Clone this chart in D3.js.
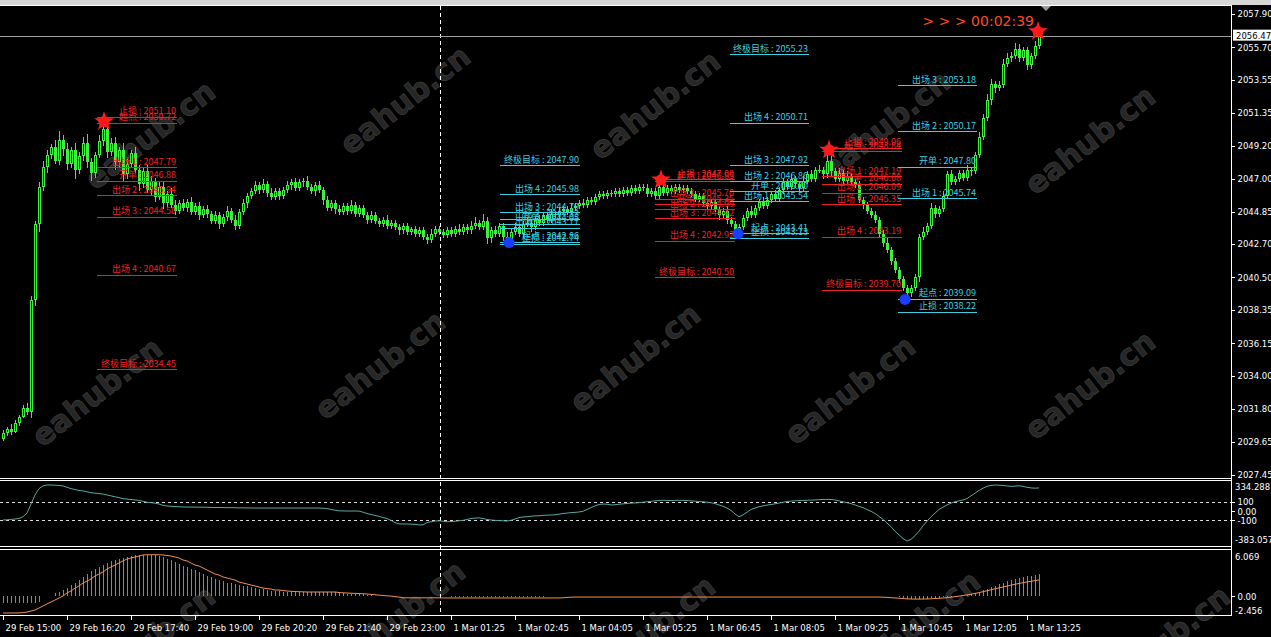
<!DOCTYPE html>
<html>
<head>
<meta charset="utf-8">
<script src="https://cdn.jsdelivr.net/npm/d3@7"></script>
<style>
html, body { margin: 0; padding: 0; background: #000; }
svg { display: block; }
</style>
</head>
<body>
<script>
// ---- price data (M5 bars), open of a bar = previous close ----
var firstOpen = 2029.8;
var closes = [
2030.2,2030.5,2030.3,2030.9,2031.3,2031.9,2031.6,2039.0,2044.0,2046.5,
2047.8,2048.6,2049.1,2048.2,2049.6,2049.0,2048.0,2048.9,2047.6,2048.5,
2049.4,2048.1,2047.4,2048.6,2049.5,2050.3,2048.8,2049.4,2048.1,2048.9,
2047.3,2048.0,2048.7,2047.6,2046.7,2047.5,2046.3,2046.9,2045.8,2046.5,
2045.4,2046.0,2045.3,2044.9,2045.4,2045.1,2045.5,2044.8,2045.2,2044.6,
2045.0,2044.7,2044.2,2044.6,2044.0,2044.5,2044.9,2044.3,2043.9,2044.8,
2045.4,2045.9,2046.2,2046.6,2046.3,2046.7,2046.1,2045.8,2046.2,2045.9,
2046.3,2046.6,2046.8,2046.4,2046.8,2046.9,2046.5,2046.2,2046.6,2046.3,
2045.6,2045.1,2045.4,2045.0,2044.8,2045.2,2044.9,2045.3,2044.7,2045.1,
2044.6,2044.3,2044.6,2044.2,2044.0,2044.3,2043.9,2044.1,2043.8,2043.6,
2043.9,2043.5,2043.7,2043.4,2043.6,2043.2,2043.0,2043.4,2043.7,2043.5,
2043.3,2043.6,2043.4,2043.7,2043.5,2043.8,2043.6,2043.9,2044.1,2043.8,
2044.2,2043.1,2043.6,2043.4,2043.9,2043.2,2042.9,2043.5,2043.8,2043.4,
2044.0,2044.1,2043.8,2044.3,2044.1,2044.6,2044.3,2044.7,2044.6,2044.9,
2045.0,2044.8,2045.1,2045.2,2045.4,2045.3,2045.6,2045.5,2045.8,2046.0,
2045.9,2046.1,2046.0,2046.2,2046.0,2046.3,2046.1,2046.4,2046.2,2046.5,
2046.4,2046.0,2046.2,2045.9,2046.5,2046.1,2046.4,2046.2,2046.5,2046.3,
2046.4,2046.2,2046.0,2045.7,2045.9,2045.4,2045.2,2045.5,2045.0,2044.6,
2044.9,2044.3,2044.0,2043.6,2043.8,2044.4,2044.9,2044.6,2045.1,2045.5,
2045.2,2045.6,2046.0,2045.7,2046.3,2046.8,2046.5,2047.0,2046.7,2046.4,
2046.9,2047.3,2047.0,2047.6,2047.6,2047.3,2048.2,2047.5,2047.0,2047.4,
2046.9,2047.2,2046.8,2046.6,2045.6,2045.3,2044.9,2044.6,2044.3,2043.4,
2042.8,2042.3,2041.6,2041.0,2040.4,2039.8,2039.5,2039.8,2040.5,2043.2,
2043.5,2043.9,2045.1,2044.7,2045.0,2045.9,2047.3,2046.8,2047.0,2047.4,
2047.1,2047.6,2047.5,2048.6,2049.8,2051.0,2052.2,2053.3,2053.0,2053.2,
2054.6,2055.0,2055.1,2055.6,2055.0,2055.5,2054.5,2055.1,2055.8,2056.47];
// wick length above / below the body
var hiWick = [
.2,.1,.3,.2,.1,.2,.3,.3,.2,.3, .4,.3,.2,.5,.6,.3,.4,.2,.5,.3, .4,.6,.3,.2,.4,.42,.5,.3,.4,.2,
.5,.3,.2,.4,.3,.2,.4,.3,.2,.4, .3,.2,.4,.3,.2,.3,.2,.3,.2,.3, .2,.3,.2,.3,.2,.2,.3,.2,.3,.2,
.3,.2,.2,.3,.2,.3,.2,.3,.2,.2, .2,.3,.2,.3,.2,.2,.3,.2,.2,.3, .2,.3,.2,.2,.3,.2,.2,.3,.2,.2,
.2,.2,.3,.2,.2,.2,.3,.2,.2,.2, .2,.2,.1,.2,.2,.2,.2,.3,.2,.2, .2,.2,.2,.2,.3,.2,.2,.3,.4,.2,
.5,.3,.2,.3,.2,.2,.3,.2,.3,.2, .2,.3,.2,.2,.3,.2,.2,.3,.2,.2, .2,.2,.3,.2,.2,.3,.2,.2,.2,.2,
.2,.2,.2,.2,.2,.2,.2,.2,.2,.2, .2,.3,.2,.2,.35,.2,.2,.2,.2,.2, .2,.2,.2,.2,.2,.2,.2,.2,.2,.2,
.2,.3,.2,.2,.2,.2,.2,.3,.2,.2, .3,.2,.2,.3,.2,.3,.2,.3,.2,.2, .3,.2,.3,.2,.3,.2,.64,.3,.2,.3,
.2,.3,.2,.2,.3,.2,.2,.2,.3,.2, .2,.3,.2,.2,.2,.2,.2,.2,.2,.2, .3,.2,.3,.2,.2,.3,.2,.3,.2,.2,
.2,.3,.2,.2,.3,.3,.4,.3,.2,.3, .3,.3,.3,.4,.3,.2,.2,.2,.3,.3];
var loWick = [
.1,.2,.2,.1,.2,.1,.2,.4,.4,.5, .3,.4,.3,.2,.3,.5,.4,.3,.6,.3, .3,.4,.5,.3,.2,.3,.4,.3,.5,.3,
.4,.3,.3,.2,.5,.3,.2,.4,.3,.2, .4,.3,.2,.3,.2,.2,.3,.2,.2,.3, .2,.3,.2,.2,.3,.2,.3,.2,.3,.2,
.2,.3,.2,.2,.3,.2,.3,.2,.2,.3, .2,.2,.3,.2,.2,.3,.2,.2,.3,.2, .3,.2,.2,.3,.2,.2,.3,.2,.2,.2,
.2,.3,.2,.2,.2,.2,.2,.2,.2,.3, .2,.2,.2,.2,.2,.2,.3,.2,.2,.2, .2,.2,.2,.2,.2,.2,.2,.2,.2,.2,
.2,.4,.3,.2,.2,.3,.04,.2,.2,.2, .2,.2,.3,.2,.2,.2,.2,.2,.2,.2, .2,.2,.2,.2,.2,.2,.2,.2,.2,.2,
.2,.2,.2,.2,.2,.2,.2,.2,.2,.2, .2,.2,.2,.2,.3,.2,.2,.2,.2,.2, .2,.2,.2,.2,.2,.2,.2,.2,.2,.3,
.2,.3,.2,.2,.19,.2,.2,.2,.2,.2, .2,.2,.2,.2,.2,.3,.2,.2,.3,.2, .2,.2,.2,.2,.2,.3,.2,.3,.2,.2,
.2,.2,.2,.2,.2,.3,.2,.2,.2,.3, .3,.2,.3,.2,.3,.2,.41,.3,.2,.3, .2,.2,.2,.3,.2,.2,.2,.2,.2,.2,
.2,.2,.3,.2,.2,.2,.2,.3,.3,.2, .2,.2,.3,.2,.3,.2,.3,.2,.2,.2];

// ---- sub window 1 (CCI style line) ----
var cci = [
-96,-94,-90,-85,-80,-60,-20,80,180,250, 280,290,290,288,285,280,265,250,240,230,
225,215,205,200,195,190,180,170,160,150, 140,135,130,125,120,110,100,95,90,80,
65,58,55,52,50,48,47,47,46,45, 45,44,43,42,42,41,40,40,39,38,
38,37,37,36,36,36,36,36,36,36, 36,36,36,36,36,36,36,36,36,36,
34,30,20,12,5,4,3,3,3,2, -10,-25,-35,-45,-55,-70,-80,-100,-125,-140,
-140,-140,-142,-145,-150,-150,-125,-115,-108,-105, -110,-115,-113,-110,-105,-100,-90,-80,-75,-72,
-80,-90,-96,-100,-103,-105,-107,-100,-85,-70, -63,-60,-55,-50,-50,-45,-42,-41,-38,-32,
-25,-20,-15,-12,-8,0,20,40,60,75, 80,78,70,72,78,82,86,90,92,95,
100,105,110,115,120,122,120,118,120,122, 120,118,115,112,108,105,100,95,85,70,
55,35,10,-30,-60,-40,-10,20,35,50, 60,68,75,82,90,100,108,112,115,118,
120,122,124,125,128,130,132,130,125,115, 105,95,85,70,55,40,20,0,-25,-55,
-90,-130,-170,-220,-260,-300,-328,-310,-270,-220, -160,-110,-60,-20,20,45,70,90,105,115,
125,140,170,200,230,255,275,285,290,288, 285,280,275,278,282,275,265,258,255,258];
var cciMax = 334.288, cciMin = -383.057;
var cciLevels = [100, 0, -100];

// ---- sub window 2 (histogram + signal) ----
var hist = [
-.85,-.9,-.88,-.9,-.92,-.9,-.88,-.9,-.85,-.8, 0,0,0,.43,.6,.82,1.1,1.48,1.8,2.13,
2.5,2.92,3.25,3.58,3.85,4.1,4.35,4.63,4.78,4.89, 5.02,5.15,5.25,5.35,5.41,5.45,5.45,5.41,5.35,5.28,
5.1,4.89,4.7,4.5,4.25,4.0,3.8,3.58,3.4,3.18, 2.95,2.7,2.5,2.3,2.13,1.95,1.8,1.7,1.6,1.5,
1.4,1.3,1.22,1.1,1.0,.9,.8,.75,.7,.65, .6,.56,.56,.56,.56,.56,.56,.56,.56,.56,
.56,.55,.55,.5,.45,.4,.35,.32,.3,.28, .25,.2,.15,.1,.05,.02,0,0,0,0,
0,0,0,0,0,0,0,0,0,0, 0,0,-.08,-.08,-.08,-.08,-.08,-.08,-.08,-.08,
-.08,-.08,-.08,-.08,-.08,-.08,-.08,-.08,-.08,-.08, -.08,-.08,-.08,-.08,-.08,-.08,0,0,0,0,
0,0,0,0,0,0,0,0,0,0, 0,0,0,0,0,0,0,0,0,0,
0,0,0,0,0,0,0,0,0,0, 0,0,0,0,0,0,0,0,0,0,
0,0,0,0,0,0,0,0,0,0, 0,0,0,0,0,0,0,0,0,0,
0,0,0,0,0,0,0,0,0,0, 0,0,0,0,0,0,0,0,0,0,
0,0,0,0,-.1,-.2,-.3,-.35,-.35,-.35, -.3,-.3,-.25,-.2,-.2,-.15,-.1,-.05,0,.05,
.1,.2,.3,.45,.6,.8,1.0,1.2,1.4,1.6, 1.8,1.95,2.1,2.25,2.4,2.5,2.6,2.7,2.8,2.9];
var signal = [
-2.19,-2.19,-2.19,-2.19,-2.19,-2.15,-2.06,-1.93,-1.8,-1.54, -1.28,-1.0,-.75,-.49,-.23,.04,.43,.69,1.08,1.35,
1.74,2.0,2.26,2.66,2.92,3.18,3.58,3.84,4.1,4.36, 4.63,4.89,5.02,5.15,5.28,5.41,5.45,5.45,5.45,5.45,
5.41,5.35,5.28,5.15,5.02,4.76,4.63,4.36,4.1,3.97, 3.71,3.45,3.18,2.92,2.79,2.53,2.4,2.26,2.13,1.87,
1.74,1.61,1.48,1.35,1.22,1.08,1.0,.95,.82,.82, .75,.69,.65,.62,.6,.58,.56,.56,.56,.56,
.56,.56,.56,.56,.5,.45,.43,.4,.38,.36, .33,.3,.25,.2,.15,.1,.06,.03,-.05,-.1,
-.2,-.2,-.2,-.2,-.2,-.2,-.2,-.2,-.2,-.2, -.22,-.22,-.22,-.22,-.22,-.22,-.22,-.22,-.22,-.22,
-.22,-.22,-.22,-.22,-.22,-.22,-.22,-.22,-.22,-.22, -.22,-.22,-.22,-.22,-.22,-.22,-.22,-.22,-.22,-.22,
-.2,-.15,-.12,-.1,-.1,-.1,-.1,-.1,-.1,-.1, -.1,-.1,-.1,-.1,-.1,-.1,-.1,-.1,-.1,-.1,
-.1,-.1,-.1,-.1,-.1,-.1,-.1,-.1,-.1,-.1, -.1,-.1,-.1,-.1,-.1,-.1,-.1,-.1,-.1,-.1,
-.1,-.1,-.1,-.1,-.1,-.1,-.1,-.1,-.1,-.1, -.1,-.1,-.1,-.1,-.1,-.1,-.1,-.1,-.1,-.1,
-.1,-.1,-.1,-.1,-.1,-.1,-.1,-.1,-.1,-.1, -.1,-.1,-.1,-.1,-.1,-.1,-.1,-.1,-.1,-.1,
-.12,-.15,-.18,-.22,-.26,-.3,-.34,-.36,-.37,-.37, -.36,-.35,-.33,-.3,-.27,-.23,-.18,-.12,-.05,.02,
.1,.18,.27,.37,.48,.6,.72,.85,.98,1.1, 1.22,1.34,1.46,1.57,1.68,1.78,1.88,1.97,2.06,2.14];
var macdMax = 6.069, macdMin = -2.456;

// ---- axes ----
var priceTicks = [2057.90,2055.70,2053.55,2051.35,2049.20,2047.00,2044.85,2042.70,2040.50,2038.35,2036.15,2034.00,2031.80,2029.65,2027.45];
var lastPrice = 2056.47;
var timeTicks = [0,16,32,48,64,80,96,112,128,144,160,176,192,208,224,240,256];
var timeLabels = ['29 Feb 15:00','29 Feb 16:20','29 Feb 17:40','29 Feb 19:00','29 Feb 20:20','29 Feb 21:40','29 Feb 23:00',
  '1 Mar 01:25','1 Mar 02:45','1 Mar 04:05','1 Mar 05:25','1 Mar 06:45','1 Mar 08:05','1 Mar 09:25','1 Mar 10:45','1 Mar 12:05','1 Mar 13:25'];
var separatorBar = 109.25;
var countdown = '> > >  00:02:39';

// ---- EA level objects ----
var redA = [['止损',2051.10],['起点',2050.72],['出场 1',2047.79],['开单',2046.88],['出场 2',2045.94],['出场 3',2044.50],['出场 4',2040.67],['终极目标',2034.45]];
var cyanA = [['终极目标',2047.90],['出场 4',2045.98],['出场 3',2044.79],['出场 2',2044.33],['开单',2044.05],['出场 1',2043.77],['起点',2042.86],['止损',2042.74]];
var redB = [['止损',2047.00],['起点',2046.85],['出场 1',2045.70],['开单',2045.35],['出场 2',2044.99],['出场 3',2044.42],['出场 4',2042.92],['终极目标',2040.50]];
var cyanC = [['终极目标',2055.23],['出场 4',2050.71],['出场 3',2047.92],['出场 2',2046.86],['开单',2046.20],['出场 1',2045.54],['起点',2043.41],['止损',2043.13]];
var redD = [['止损',2049.06],['起点',2048.84],['出场 1',2047.19],['开单',2046.68],['出场 2',2046.09],['出场 3',2045.35],['出场 4',2043.19],['终极目标',2039.70]];
var cyanE = [['出场 3',2053.18],['出场 2',2050.17],['开单',2047.80],['出场 1',2045.74],['起点',2039.09],['止损',2038.22]];
var levelSpans = [[23.5,43.5],[124.25,144.25],[163,183],[181.75,201.5],[204.75,224.75],[223.75,243.5]];
var highMarks = [[25.25,2050.80],[164.5,2046.95],[206.5,2048.92],[258.75,2056.75]];
var lowMarks = [[126.5,2042.80],[183.75,2043.40],[225.5,2039.05]];

var W = 1271, H = 637, chartRight = 1231;
var green = '#3ef03e', red = '#ee2222', cyan = '#3ccfe0';

var svg = d3.select('body').append('svg')
  .attr('width', W)
  .attr('height', H)
  .style('font-family', '"DejaVu Sans", sans-serif');

svg.append('rect').attr('width', W).attr('height', H).attr('fill', '#000');
// top window strip
svg.append('rect').attr('x', 0).attr('y', 0).attr('width', W).attr('height', 5).attr('fill', '#d6d6d6');

var x = d3.scaleLinear().domain([0, 259]).range([3, 1039]);
var y = d3.scaleLinear().domain([2027.45, 2057.90]).range([475, 14]);
var yC = d3.scaleLinear().domain([cciMin, cciMax]).range([546, 481]);
var yM = d3.scaleLinear().domain([macdMin, macdMax]).range([615, 550]);

var defs = svg.append('defs');
defs.append('clipPath').attr('id', 'cMain').append('rect').attr('x', 0).attr('y', 6).attr('width', chartRight).attr('height', 472);
defs.append('clipPath').attr('id', 'cSub1').append('rect').attr('x', 0).attr('y', 481).attr('width', chartRight).attr('height', 65);
defs.append('clipPath').attr('id', 'cSub2').append('rect').attr('x', 0).attr('y', 550).attr('width', chartRight).attr('height', 65);
defs.append('clipPath').attr('id', 'cAll').append('rect').attr('x', 0).attr('y', 6).attr('width', chartRight).attr('height', 631);

// watermarks
var wm = [[150,135],[405,100],[655,105],[885,125],[1090,140],
          [97,392],[380,365],[635,358],[850,390],[1090,385],
          [150,640],[400,615],[650,630],[915,625],[1165,640]];
svg.append('g').attr('clip-path', 'url(#cAll)').selectAll('text').data(wm).enter().append('text')
  .attr('transform', function(d){ return 'translate(' + d[0] + ',' + d[1] + ') rotate(-38)'; })
  .attr('text-anchor', 'middle')
  .attr('dy', '0.35em')
  .attr('font-size', 30)
  .attr('font-weight', 'bold')
  .attr('fill', '#262626')
  .attr('stroke', '#3a3a3a')
  .attr('stroke-width', 0.8)
  .text('eahub.cn');

// frame lines
var frame = svg.append('g').attr('stroke', '#fff').attr('shape-rendering', 'crispEdges');
[5.5, 478.5, 480.5, 546.5, 549.5, 615.5].forEach(function(v){
  frame.append('line').attr('x1', 0).attr('x2', chartRight + 0.5).attr('y1', v).attr('y2', v);
});
frame.append('line').attr('x1', chartRight + 0.5).attr('x2', chartRight + 0.5).attr('y1', 5).attr('y2', 616);

// chart-shift triangle
svg.append('path').attr('d', 'M1041,6 L1051,6 L1046,11 Z').attr('fill', '#9a9a9a');

// day separator
svg.append('line')
  .attr('x1', Math.round(x(separatorBar)) + 0.5).attr('x2', Math.round(x(separatorBar)) + 0.5)
  .attr('y1', 6).attr('y2', 615)
  .attr('stroke', '#fff').attr('stroke-dasharray', '4,3');

// current price line
svg.append('line').attr('x1', 0).attr('x2', chartRight)
  .attr('y1', Math.round(y(lastPrice)) + 0.5).attr('y2', Math.round(y(lastPrice)) + 0.5)
  .attr('stroke', '#a0a0a0').attr('shape-rendering', 'crispEdges');

// ---- candles ----
var bars = closes.map(function(c, i){
  var o = i ? closes[i - 1] : firstOpen;
  return {i: i, o: o, c: c, h: Math.max(o, c) + hiWick[i], l: Math.min(o, c) - loWick[i]};
});
var main = svg.append('g').attr('clip-path', 'url(#cMain)').attr('shape-rendering', 'crispEdges');
main.selectAll('line.wick').data(bars).enter().append('line')
  .attr('class', 'wick')
  .attr('x1', function(d){ return Math.round(x(d.i)) + 0.5; })
  .attr('x2', function(d){ return Math.round(x(d.i)) + 0.5; })
  .attr('y1', function(d){ return y(d.h); })
  .attr('y2', function(d){ return y(d.l); })
  .attr('stroke', green);
main.selectAll('rect.body').data(bars).enter().append('rect')
  .attr('class', 'body')
  .attr('x', function(d){ return Math.round(x(d.i)) - 1; })
  .attr('width', 3)
  .attr('y', function(d){ return y(Math.max(d.o, d.c)); })
  .attr('height', function(d){ return Math.max(1, Math.abs(y(d.o) - y(d.c))); })
  .attr('fill', green);
// bull bodies are hollow
main.selectAll('rect.hollow').data(bars.filter(function(d){ return d.c > d.o && y(d.o) - y(d.c) > 3; })).enter().append('rect')
  .attr('class', 'hollow')
  .attr('x', function(d){ return Math.round(x(d.i)); })
  .attr('width', 1)
  .attr('y', function(d){ return y(d.c) + 1; })
  .attr('height', function(d){ return y(d.o) - y(d.c) - 2; })
  .attr('fill', '#000');

// ---- level objects ----
var groups = [[redA, red], [cyanA, cyan], [redB, red], [cyanC, cyan], [redD, red], [cyanE, cyan]];
var lv = svg.append('g').attr('clip-path', 'url(#cMain)');
groups.forEach(function(g, k){
  var x0 = x(levelSpans[k][0]), x1 = x(levelSpans[k][1]);
  var gg = lv.append('g');
  gg.selectAll('line').data(g[0]).enter().append('line')
    .attr('x1', x0).attr('x2', x1)
    .attr('y1', function(d){ return Math.round(y(d[1])) + 0.5; })
    .attr('y2', function(d){ return Math.round(y(d[1])) + 0.5; })
    .attr('stroke', g[1]).attr('shape-rendering', 'crispEdges');
  gg.selectAll('text').data(g[0]).enter().append('text')
    .attr('x', x1 - 1)
    .attr('y', function(d){ return y(d[1]) - 2.5; })
    .attr('text-anchor', 'end')
    .attr('font-family', '"Noto Sans CJK SC", sans-serif')
    .attr('font-size', 9)
    .attr('fill', g[1])
    .text(function(d){ return d[0] + ' : ' + d[1].toFixed(2); });
});

// high / low markers
var mk = svg.append('g');
mk.selectAll('path.hi').data(highMarks).enter().append('path')
  .attr('transform', function(d){ return 'translate(' + x(d[0]) + ',' + y(d[1]) + ')'; })
  .attr('d', d3.symbol(d3.symbolStar, 120))
  .attr('fill', '#ff2020');
mk.selectAll('circle.hi').data(highMarks).enter().append('circle')
  .attr('cx', function(d){ return x(d[0]); })
  .attr('cy', function(d){ return y(d[1]); })
  .attr('r', 5.5).attr('fill', '#ff1a1a');
mk.selectAll('circle.lo').data(lowMarks).enter().append('circle')
  .attr('cx', function(d){ return x(d[0]); })
  .attr('cy', function(d){ return y(d[1]); })
  .attr('r', 5.5).attr('fill', '#1a3cff');

// countdown
svg.append('text').attr('x', 1034).attr('y', 26)
  .attr('text-anchor', 'end').attr('font-size', 14)
  .attr('fill', '#ff4a24').text(countdown);

// ---- sub window 1 ----
var s1 = svg.append('g').attr('clip-path', 'url(#cSub1)');
s1.selectAll('line').data([100, -100]).enter().append('line')
  .attr('x1', 0).attr('x2', chartRight)
  .attr('y1', function(d){ return Math.round(yC(d)) + 0.5; })
  .attr('y2', function(d){ return Math.round(yC(d)) + 0.5; })
  .attr('stroke', '#ddd').attr('stroke-dasharray', '3,3');
s1.append('path').datum(cci)
  .attr('fill', 'none').attr('stroke', '#5aa89e')
  .attr('d', d3.line().x(function(d, i){ return x(i); }).y(function(d){ return yC(d); }));

// ---- sub window 2 ----
var s2 = svg.append('g').attr('clip-path', 'url(#cSub2)');
s2.selectAll('line').data(hist).enter().append('line')
  .attr('x1', function(d, i){ return Math.round(x(i)) + 0.5; })
  .attr('x2', function(d, i){ return Math.round(x(i)) + 0.5; })
  .attr('y1', yM(0))
  .attr('y2', function(d){ return yM(d); })
  .attr('stroke', '#7186c8')
  .attr('shape-rendering', 'crispEdges');
s2.append('path').datum(signal)
  .attr('fill', 'none').attr('stroke', '#ee9355')
  .attr('d', d3.line().x(function(d, i){ return x(i); }).y(function(d){ return yM(d); }));

// ---- axes ----
function styleAxis(g){
  g.selectAll('path,line').attr('stroke', '#fff').attr('shape-rendering', 'crispEdges');
  g.selectAll('text').attr('fill', '#fff').attr('font-size', 8.5).attr('font-family', '"DejaVu Sans", sans-serif');
}
var pAxis = svg.append('g').attr('transform', 'translate(' + (chartRight + 0.5) + ',0)')
  .call(d3.axisRight(y).tickValues(priceTicks).tickFormat(d3.format('.2f')).tickSize(3).tickPadding(3));
pAxis.select('.domain').remove();
styleAxis(pAxis);

// last price tag
svg.append('rect').attr('x', chartRight + 2).attr('y', y(lastPrice) - 6).attr('width', 38).attr('height', 11).attr('fill', '#fff');
svg.append('text').attr('x', chartRight + 5).attr('y', y(lastPrice) + 3.5)
  .attr('font-size', 8.5).attr('fill', '#000').text(lastPrice.toFixed(2));

var cAxis = svg.append('g').attr('transform', 'translate(' + (chartRight + 0.5) + ',0)')
  .call(d3.axisRight(yC).tickValues(cciLevels).tickFormat(function(d){ return d === 0 ? '0.00' : d; }).tickSize(3).tickPadding(3));
cAxis.select('.domain').remove();
styleAxis(cAxis);
svg.append('text').attr('x', chartRight + 4).attr('y', yC(cciMax) + 9).attr('font-size', 8.5).attr('fill', '#fff').text(cciMax.toFixed(3));
svg.append('text').attr('x', chartRight + 4).attr('y', yC(cciMin) - 3).attr('font-size', 8.5).attr('fill', '#fff').text(cciMin.toFixed(3));

var mAxis = svg.append('g').attr('transform', 'translate(' + (chartRight + 0.5) + ',0)')
  .call(d3.axisRight(yM).tickValues([0]).tickFormat(function(){ return '0.00'; }).tickSize(3).tickPadding(3));
mAxis.select('.domain').remove();
styleAxis(mAxis);
svg.append('text').attr('x', chartRight + 4).attr('y', yM(macdMax) + 10).attr('font-size', 8.5).attr('fill', '#fff').text(macdMax.toFixed(3));
svg.append('text').attr('x', chartRight + 4).attr('y', yM(macdMin) - 1).attr('font-size', 8.5).attr('fill', '#fff').text(macdMin.toFixed(3));

var tAxis = svg.append('g').attr('transform', 'translate(0,615.5)')
  .call(d3.axisBottom(x).tickValues(timeTicks).tickFormat(function(d, i){ return timeLabels[i]; }).tickSize(4).tickPadding(5));
tAxis.select('.domain').remove();
styleAxis(tAxis);
tAxis.selectAll('text').attr('text-anchor', 'start').attr('dx', 2);
</script>
</body>
</html>
